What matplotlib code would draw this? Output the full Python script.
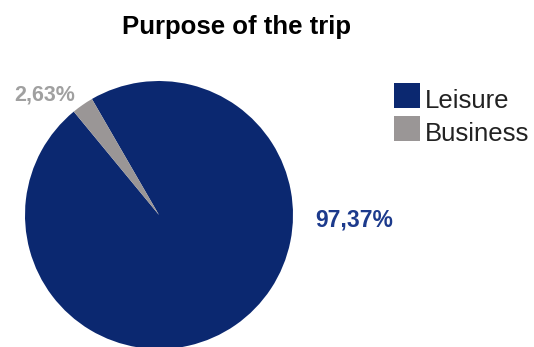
import matplotlib
matplotlib.use("Agg")
import matplotlib.pyplot as plt
from matplotlib.patches import Rectangle

plt.rcParams['font.family'] = ['Liberation Sans', 'DejaVu Sans']

title = "Purpose of the trip"
categories = ["Leisure", "Business"]
shares = [97.37, 2.63]
colors = ["#0b2870", "#9a9696"]
label_colors = ["#1c3a8c", "#a0a0a0"]

W, H = 534, 347
fig = plt.figure(figsize=(W / 100, H / 100), dpi=100)

# pie axes: centre (159, 215) px, radius 134 px
cx, cy, r = 159, 215, 134
ax = fig.add_axes([(cx - r) / W, (H - cy - r) / H, 2 * r / W, 2 * r / H])
ax.pie(shares, colors=colors, startangle=129.5, counterclock=True,
       radius=1.0, wedgeprops=dict(linewidth=0))
ax.set_xlim(-1, 1)
ax.set_ylim(-1, 1)
ax.set_aspect('equal')
ax.axis('off')


def fmt(v):
    return f"{v:.2f}".replace(".", ",") + "%"


def px(x, y):
    return x / W, 1 - y / H


# percentage labels
fig.text(*px(354, 227), fmt(shares[0]), color=label_colors[0], fontsize=16.5,
         fontweight='bold', ha='center', va='baseline')
fig.text(*px(45, 101), fmt(shares[1]), color=label_colors[1], fontsize=15.5,
         fontweight='bold', ha='center', va='baseline')

# title
fig.text(*px(237, 34), title, fontsize=18.5, fontweight='bold',
         ha='center', va='baseline', color='black')

# legend
for i, (cat, col) in enumerate(zip(categories, colors)):
    top = 83 + i * 33
    x0, y0 = px(394, top + 25)
    fig.add_artist(Rectangle((x0, y0), 26 / W, 25 / H, transform=fig.transFigure,
                             facecolor=col, edgecolor='none'))
    fig.text(*px(425, top + 25), cat, fontsize=18.5, ha='left', va='baseline',
             color='#222222')

fig.savefig("out.png", dpi=100, facecolor='white')
